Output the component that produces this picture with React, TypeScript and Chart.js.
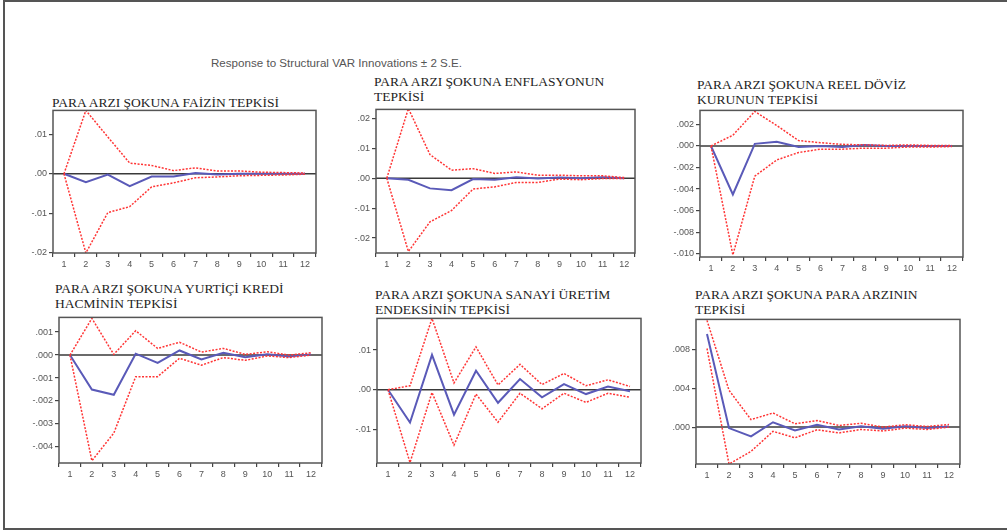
import React, { useEffect, useRef } from "react";
import { Chart, registerables } from "chart.js";
Chart.register(...registerables);

const periods = ["1", "2", "3", "4", "5", "6", "7", "8", "9", "10", "11", "12"];

const mainTitle = "Response to Structural VAR Innovations \u00b1 2 S.E.";

// 1. Faiz
const faizTitle = ["PARA ARZI \u015eOKUNA FA\u0130Z\u0130N TEPK\u0130S\u0130"];
const faizResp = [0, -0.0021, -0.0002, -0.0031, -0.0007, -0.0007, 0.0002, -0.0002, 0.0, 0.0, 0.0, 0.0];
const faizUpper = [0, 0.016, 0.0093, 0.0027, 0.0021, 0.0008, 0.0015, 0.0007, 0.0007, 0.0004, 0.0003, 0.0002];
const faizLower = [0, -0.02, -0.0098, -0.0083, -0.0033, -0.0023, -0.001, -0.0008, -0.0005, -0.0004, -0.0003, -0.0001];
const faizTicks = [0.01, 0, -0.01, -0.02];

// 2. Enflasyon
const enfTitle = ["PARA ARZI \u015eOKUNA ENFLASYONUN", "TEPK\u0130S\u0130"];
const enfResp = [0, -0.0005, -0.0034, -0.004, -0.0003, -0.0005, 0.0003, -0.0001, 0.0002, 0.0, 0.0003, 0.0];
const enfUpper = [0, 0.0233, 0.0079, 0.0027, 0.0032, 0.0016, 0.0021, 0.001, 0.001, 0.0008, 0.0008, 0.0002];
const enfLower = [0, -0.0245, -0.0146, -0.0108, -0.0036, -0.0029, -0.0014, -0.0014, -0.0003, -0.0005, -0.0001, -0.0001];
const enfTicks = [0.02, 0.01, 0, -0.01, -0.02];

// 3. Reel döviz kuru
const kurTitle = ["PARA ARZI \u015eOKUNA REEL D\u00d6V\u0130Z", "KURUNUN TEPK\u0130S\u0130"];
const kurResp = [0, -0.0045, 0.0002, 0.0004, -0.0001, 0.0, -0.0001, 0.0001, 0.0, 0.0, 0.0, 0.0];
const kurUpper = [0, 0.001, 0.0032, 0.0019, 0.0005, 0.0003, 0.00015, 0.0001, 0.00005, 0.0001, 0.00005, 0.00005];
const kurLower = [0, -0.0101, -0.0028, -0.0013, -0.0006, -0.0003, -0.0003, -0.0002, -0.0002, -0.0001, -0.0001, -0.00005];
const kurTicks = [0.002, 0, -0.002, -0.004, -0.006, -0.008, -0.01];

// 4. Yurtiçi kredi hacmi
const krediTitle = ["PARA ARZI \u015eOKUNA YURT\u0130\u00c7\u0130 KRED\u0130", "HACM\u0130N\u0130N TEPK\u0130S\u0130"];
const krediResp = [0, -0.0015, -0.00173, 0.00006, -0.00034, 0.0002, -0.00019, 0.0001, -0.00009, 0.00003, -0.00006, 0.00003];
const krediUpper = [0, 0.0016, 0.00003, 0.00106, 0.00029, 0.00056, 0.00013, 0.00029, 0.00003, 0.00014, 0.0, 0.0001];
const krediLower = [0, -0.0046, -0.0034, -0.00094, -0.00094, -0.00014, -0.00044, -0.00011, -0.00023, -0.00004, -0.00011, 0.0];
const krediTicks = [0.001, 0, -0.001, -0.002, -0.003, -0.004];

// 5. Sanayi üretim endeksi
const sanayiTitle = ["PARA ARZI \u015eOKUNA SANAY\u0130 \u00dcRET\u0130M", "ENDEKS\u0130N\u0130N TEPK\u0130S\u0130"];
const sanayiResp = [0, -0.0083, 0.0088, -0.0063, 0.0048, -0.0033, 0.0027, -0.0019, 0.0014, -0.0011, 0.0008, -0.0004];
const sanayiUpper = [0, 0.001, 0.018, 0.0017, 0.0108, 0.0012, 0.0064, 0.0013, 0.0041, 0.001, 0.0025, 0.0008];
const sanayiLower = [0, -0.0184, -0.0007, -0.014, -0.0011, -0.0082, -0.0009, -0.0048, -0.0009, -0.0032, -0.0009, -0.0019];
const sanayiTicks = [0.01, 0, -0.01];

// 6. Para arzı
const paraTitle = ["PARA ARZI \u015eOKUNA PARA ARZININ", "TEPK\u0130S\u0130"];
const paraResp = [0.0096, -0.0001, -0.00095, 0.0005, -0.00034, 0.00024, -0.00024, 0.0001, -0.00017, 0.0001, -0.0001, 0.00007];
const paraUpper = [0.011, 0.0038, 0.00078, 0.00146, 0.00034, 0.00068, 0.00017, 0.0004, 0.0, 0.00024, 0.00007, 0.00027];
const paraLower = [0.0081, -0.0038, -0.0025, -0.00044, -0.0011, -0.00027, -0.0006, -0.00024, -0.0004, -0.0001, -0.00024, 0.0];
const paraTicks = [0.008, 0.004, 0];

type PanelDef = {
  title: string[];
  resp: number[];
  upper: number[];
  lower: number[];
  ticks: number[];
  dec: number;
  min: number;
  max: number;
  box: { l: number; r: number; t: number; b: number };
  titlePos: { x: number; y: number };
};

const panels: PanelDef[] = [
  { title: faizTitle, resp: faizResp, upper: faizUpper, lower: faizLower, ticks: faizTicks, dec: 2, min: -0.02, max: 0.016, box: { l: 53, r: 316, t: 109, b: 253 }, titlePos: { x: 52, y: 95 } },
  { title: enfTitle, resp: enfResp, upper: enfUpper, lower: enfLower, ticks: enfTicks, dec: 2, min: -0.025, max: 0.023, box: { l: 376, r: 635, t: 108, b: 253 }, titlePos: { x: 374, y: 74 } },
  { title: kurTitle, resp: kurResp, upper: kurUpper, lower: kurLower, ticks: kurTicks, dec: 3, min: -0.0103, max: 0.0033, box: { l: 700, r: 963, t: 109, b: 257 }, titlePos: { x: 697, y: 77 } },
  { title: krediTitle, resp: krediResp, upper: krediUpper, lower: krediLower, ticks: krediTicks, dec: 3, min: -0.0047, max: 0.00164, box: { l: 59, r: 322, t: 316, b: 463 }, titlePos: { x: 55, y: 281 } },
  { title: sanayiTitle, resp: sanayiResp, upper: sanayiUpper, lower: sanayiLower, ticks: sanayiTicks, dec: 2, min: -0.0185, max: 0.018, box: { l: 377, r: 641, t: 317, b: 463 }, titlePos: { x: 375, y: 287 } },
  { title: paraTitle, resp: paraResp, upper: paraUpper, lower: paraLower, ticks: paraTicks, dec: 3, min: -0.0038, max: 0.0111, box: { l: 696, r: 960, t: 318, b: 464 }, titlePos: { x: 695, y: 287 } },
];

const AXIS_W = 50;
const AXIS_H = 24;
const PAD = 6;

function fmt(v: number, dec: number): string {
  const s = Math.abs(v).toFixed(dec).replace(/^0/, "");
  return (v < -1e-12 ? "-" : "") + s;
}

const framePlugin = {
  id: "eviewsFrame",
  beforeDatasetsDraw(chart: any) {
    const { ctx, chartArea, scales } = chart;
    const y0 = scales.y.getPixelForValue(0);
    ctx.save();
    ctx.strokeStyle = "#3a3a3a";
    ctx.lineWidth = 1.5;
    ctx.beginPath();
    ctx.moveTo(chartArea.left, y0);
    ctx.lineTo(chartArea.right, y0);
    ctx.stroke();
    ctx.restore();
  },
  afterDraw(chart: any) {
    const { ctx, chartArea } = chart;
    ctx.save();
    ctx.strokeStyle = "#555";
    ctx.lineWidth = 1.5;
    ctx.strokeRect(chartArea.left, chartArea.top, chartArea.right - chartArea.left, chartArea.bottom - chartArea.top);
    ctx.restore();
  },
};

const tickFont = { size: 9, family: "'Liberation Sans', Arial, sans-serif" };

function Panel({ p }: { p: PanelDef }) {
  const ref = useRef<HTMLCanvasElement>(null);
  const w = p.box.r - p.box.l + AXIS_W + PAD;
  const h = p.box.b - p.box.t + AXIS_H + PAD;
  useEffect(() => {
    if (!ref.current) return;
    const chart = new Chart(ref.current, {
      type: "line",
      data: {
        labels: periods,
        datasets: [
          { data: p.upper, borderColor: "#ff3535", borderWidth: 1.5, borderDash: [2, 1.5], pointRadius: 0, tension: 0 },
          { data: p.lower, borderColor: "#ff3535", borderWidth: 1.5, borderDash: [2, 1.5], pointRadius: 0, tension: 0 },
          { data: p.resp, borderColor: "#5a5ab8", borderWidth: 2, pointRadius: 0, tension: 0 },
        ],
      },
      options: {
        animation: false,
        responsive: false,
        devicePixelRatio: 1,
        layout: { padding: { top: PAD, right: PAD, left: 0, bottom: 0 } },
        plugins: { legend: { display: false }, tooltip: { enabled: false }, title: { display: false } },
        scales: {
          x: {
            type: "category",
            offset: true,
            afterFit: (s: any) => { s.height = AXIS_H; },
            grid: { offset: true, drawOnChartArea: false, drawTicks: true, tickLength: 4, tickColor: "#444", lineWidth: 1.2 },
            border: { display: false },
            ticks: { font: tickFont, color: "#555", padding: 2, maxRotation: 0, autoSkip: false },
          },
          y: {
            min: p.min,
            max: p.max,
            afterBuildTicks: (s: any) => { s.ticks = p.ticks.map((v) => ({ value: v })); },
            afterFit: (s: any) => { s.width = AXIS_W; },
            grid: { drawOnChartArea: false, drawTicks: true, tickLength: 4, tickColor: "#444", lineWidth: 1.2 },
            border: { display: false },
            ticks: { font: tickFont, color: "#555", padding: 2, autoSkip: false, callback: (v: any) => fmt(Number(v), p.dec) },
          },
        },
      } as any,
      plugins: [framePlugin],
    });
    return () => chart.destroy();
  }, []);
  return (
    <>
      <div
        style={{
          position: "absolute",
          left: p.titlePos.x,
          top: p.titlePos.y,
          fontFamily: "'Liberation Serif', 'Times New Roman', serif",
          fontSize: 13.5,
          lineHeight: "15px",
          color: "#1e1e1e",
          whiteSpace: "nowrap",
        }}
      >
        {p.title.map((t, i) => (
          <div key={i}>{t}</div>
        ))}
      </div>
      <canvas
        ref={ref}
        width={w}
        height={h}
        style={{ position: "absolute", left: p.box.l - AXIS_W, top: p.box.t - PAD, width: w, height: h }}
      />
    </>
  );
}

export default function App() {
  return (
    <div style={{ position: "fixed", left: 0, top: 0, width: 1007, height: 530, background: "#fff", overflow: "hidden" }}>
      <div
        style={{
          position: "absolute",
          left: 3,
          top: 0,
          width: 1004,
          height: 530,
          boxSizing: "border-box",
          borderLeft: "2px solid #555",
          borderTop: "2px solid #555",
          borderBottom: "2px solid #555",
        }}
      />
      <div
        style={{
          position: "absolute",
          left: 211,
          top: 56,
          fontFamily: "'Liberation Sans', Arial, sans-serif",
          fontSize: 11.6,
          lineHeight: "13px",
          color: "#555",
          whiteSpace: "nowrap",
        }}
      >
        {mainTitle}
      </div>
      {panels.map((p, i) => (
        <Panel key={i} p={p} />
      ))}
    </div>
  );
}
